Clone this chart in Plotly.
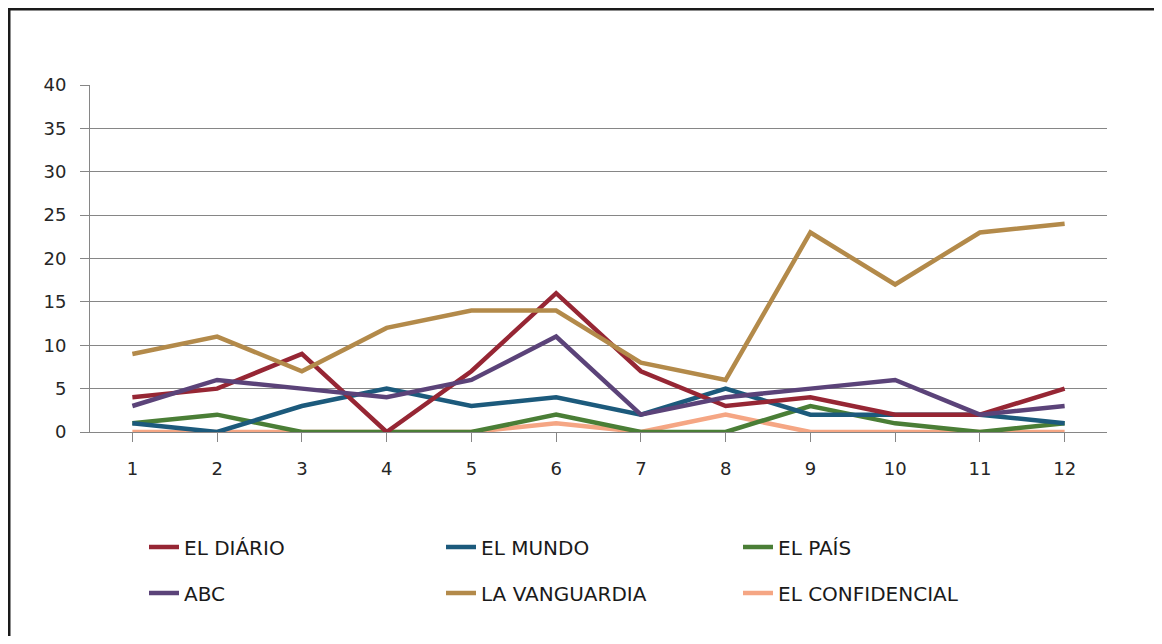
import plotly.graph_objects as go

months = [1, 2, 3, 4, 5, 6, 7, 8, 9, 10, 11, 12]
el_diario = [4, 5, 9, 0, 7, 16, 7, 3, 4, 2, 2, 5]
el_mundo = [1, 0, 3, 5, 3, 4, 2, 5, 2, 2, 2, 1]
el_pais = [1, 2, 0, 0, 0, 2, 0, 0, 3, 1, 0, 1]
abc = [3, 6, 5, 4, 6, 11, 2, 4, 5, 6, 2, 3]
la_vanguardia = [9, 11, 7, 12, 14, 14, 8, 6, 23, 17, 23, 24]
el_confidencial = [0, 0, 0, 0, 0, 1, 0, 2, 0, 0, 0, 0]
y_ticks = [0, 5, 10, 15, 20, 25, 30, 35, 40]

series = [
    ("EL DIÁRIO", el_diario, "#962634", "legend"),
    ("EL MUNDO", el_mundo, "#1C5A7C", "legend"),
    ("EL PAÍS", el_pais, "#4A7E36", "legend"),
    ("ABC", abc, "#5B4379", "legend2"),
    ("LA VANGUARDIA", la_vanguardia, "#B38A4A", "legend2"),
    ("EL CONFIDENCIAL", el_confidencial, "#F5A684", "legend2"),
]

fig = go.Figure()
order = [5, 2, 1, 0, 3, 4]
for i in order:
    name, vals, col, leg = series[i]
    fig.add_trace(go.Scatter(
        x=months, y=vals, name=name, mode="lines",
        line=dict(color=col, width=4.5), legend=leg,
        legendrank=i,
    ))

# the page body adds an 8px margin: work in page pixels, shifted by 8
OFF = 8
W, H = 1162 - 2 * OFF, 644 - 2 * OFF
L, R, T, B = 90 - OFF, 1107 - OFF, 85 - OFF, 432 - OFF


def px(x):
    return (x - OFF - L) / (R - L)


def py(y):
    return (B - (y - OFF)) / (B - T)


legend_font = dict(family="DejaVu Sans", size=20, color="#1a1a1a")
tick_font = dict(family="DejaVu Sans", size=18, color="#262626")

fig.update_layout(
    width=W, height=H,
    margin=dict(l=L, r=W - R, t=T, b=H - B),
    paper_bgcolor="white", plot_bgcolor="white",
    showlegend=True,
    legend=dict(orientation="h", x=px(144), y=py(547), xanchor="left", yanchor="middle",
                font=legend_font, entrywidth=252, entrywidthmode="pixels",
                traceorder="normal", itemwidth=30, bgcolor="rgba(0,0,0,0)"),
    legend2=dict(orientation="h", x=px(144), y=py(593), xanchor="left", yanchor="middle",
                 font=legend_font, entrywidth=252, entrywidthmode="pixels",
                 traceorder="normal", itemwidth=30, bgcolor="rgba(0,0,0,0)"),
    xaxis=dict(
        range=[0.5, 12.5], tickmode="array", tickvals=months,
        ticktext=[str(m) for m in months],
        tickson="boundaries", ticks="outside", ticklen=9, tickcolor="#868686",
        showline=True, linecolor="#868686", linewidth=1,
        showgrid=False, zeroline=False, ticklabelstandoff=11,
        tickfont=tick_font,
        fixedrange=True,
    ),
    yaxis=dict(
        range=[0, 40], tickmode="array", tickvals=y_ticks,
        ticks="outside", ticklen=9, tickcolor="#868686",
        showline=True, linecolor="#868686", linewidth=1,
        showgrid=True, gridcolor="#868686", gridwidth=1, zeroline=False,
        ticklabelstandoff=10,
        tickfont=tick_font,
        fixedrange=True,
    ),
)

# outer border of the chart area (right and bottom edges run off the page)
fig.add_shape(type="rect", xref="paper", yref="paper",
              x0=px(9), x1=px(1200), y0=py(700), y1=py(9),
              line=dict(color="#1a1a1a", width=3), fillcolor="rgba(0,0,0,0)",
              layer="below")

fig.write_html("out.html")
